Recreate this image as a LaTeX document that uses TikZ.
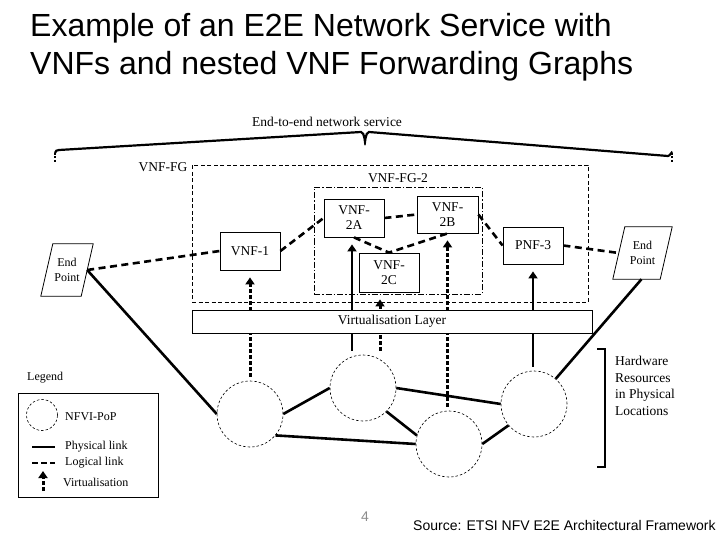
\documentclass[tikz,border=0pt]{standalone}
\usepackage{fontspec}
\setmainfont{Liberation Serif}
\newfontfamily\arialfont{Liberation Sans}
\definecolor{pagegray}{RGB}{140, 140, 140}
\usetikzlibrary{arrows.meta, positioning, shapes.geometric}

% slanted outline round an end point node
\newcommand{\slantbox}[1]{%
  \draw[line width=0.8pt] ([xshift=-6pt]#1.south west) -- ([xshift=-6pt]#1.south east)
    -- ([xshift=6pt]#1.north east) -- ([xshift=6pt]#1.north west) -- cycle;}

\begin{document}
\begin{tikzpicture}[x=1pt, y=-1pt,
    box/.style={draw, line width=0.8pt, fill=white, inner sep=0pt, align=center, font=\fontsize{13.5}{15}\selectfont},
    endpt/.style={inner sep=0pt, align=center, font=\fontsize{12}{15}\selectfont, minimum height=52pt},
    pop/.style={circle, draw, line width=0.6pt, dash pattern=on 2.5pt off 2pt, minimum size=66pt, inner sep=0pt},
    phys/.style={line width=2.6pt},
    logic/.style={line width=2.6pt, dash pattern=on 7pt off 4.5pt},
    uptip/.style={-{Triangle[width=9pt, length=7pt]}, shorten <=4pt, shorten >=7pt},
    virt/.style={line width=3pt, dash pattern=on 4pt off 2pt, uptip},
    physup/.style={line width=2.6pt, uptip},
    braceline/.style={line width=2.2pt},
    lbl/.style={font=\fontsize{13.5}{16.5}\selectfont, inner sep=1pt},
    lgd/.style={font=\fontsize{12}{14}\selectfont, inner sep=0pt},
    titlefont/.style={font=\arialfont\fontsize{32}{38}\selectfont, inner sep=0pt, anchor=base west}
  ]
  \useasboundingbox (0,0) rectangle (720,540);

  % Title
  \node[titlefont] (title1) at (30,37) {Example of an E2E Network Service with};
  \node[titlefont] (title2) at (30,75) {VNFs and nested VNF Forwarding Graphs};

  % End-to-end brace
  \node[lbl] (e2e) at (327,122) {End-to-end network service};
  \coordinate (braceL) at (55,153);
  \coordinate (braceR) at (672,153);
  \coordinate (braceTip) at (365,141);
  \draw[braceline] (braceL) to[out=90,in=180] ++(4,-3) -- ([xshift=-4pt, yshift=9pt]braceTip)
    to[out=0,in=-90] (braceTip) to[out=-90,in=180] ([xshift=4pt, yshift=9pt]braceTip)
    -- ([xshift=-4pt, yshift=-3pt]braceR) to[out=0,in=90] (braceR);
  \draw[braceline, dash pattern=on 2pt off 1.5pt] (braceL) -- ++(0,10);
  \draw[braceline, dash pattern=on 2pt off 1.5pt] (braceR) -- ++(0,10);

  % Forwarding graph boxes
  \node[draw, line width=0.6pt, dash pattern=on 4pt off 2.5pt, minimum width=396pt, minimum height=137pt, inner sep=0pt] (fg) at (390,233.5) {};
  \node[lbl, anchor=east] (fglbl) at ([xshift=-3pt, yshift=-2pt]fg.north west) {VNF-FG};
  \node[draw, line width=0.6pt, dash pattern=on 6pt off 2pt on 1.5pt off 2pt, minimum width=168pt, minimum height=107pt, inner sep=0pt] (fg2) at (398,240.5) {};
  \node[lbl, above=3pt of fg2.north] (fg2lbl) {VNF-FG-2};

  % Network functions
  \node[box, minimum width=60pt, minimum height=38pt] (vnf1) at (250,251) {VNF-1};
  \node[box, minimum width=60pt, minimum height=38pt] (vnf2a) at (354,218) {VNF-\\2A};
  \node[box, minimum width=61pt, minimum height=37pt] (vnf2b) at (447.5,214.5) {VNF-\\2B};
  \node[box, minimum width=60pt, minimum height=39pt] (vnf2c) at (389,272.5) {VNF-\\2C};
  \node[box, minimum width=60pt, minimum height=37pt] (pnf3) at (533,245.5) {PNF-3};

  % End points
  \node[endpt, minimum width=40pt] (epL) at (67,270) {End\\Point};
  \slantbox{epL}
  \node[endpt, minimum width=47pt] (epR) at (642.5,253) {End\\Point};
  \slantbox{epR}

  % NFVI-PoPs
  \node[pop] (pop1) at (250,414) {};
  \node[pop] (pop2) at (363,388) {};
  \node[pop] (pop3) at (449,444) {};
  \node[pop] (pop4) at (534,404) {};

  % Logical links
  \draw[logic] (epL.east) -- (vnf1.west);
  \draw[logic] (vnf1.east) -- (vnf2a.west);
  \draw[logic] (vnf2a.east) -- (vnf2b.west);
  \draw[logic] (vnf2a.south) -- (vnf2c.north) -- (vnf2b.south);
  \draw[logic] (vnf2b.east) -- (pnf3.west);
  \draw[logic] (pnf3.east) -- (epR.west);

  % Physical links
  \draw[phys] (epL.east) -- (pop1.west);
  \draw[phys] ([xshift=-1pt]epR.south) -- (pop4);
  \draw[phys] (pop1.east) -- (pop2.west);
  \draw[phys] (pop1.-40) -- (pop3.west);
  \draw[phys] (pop2.-45) -- (pop3.165);
  \draw[phys] (pop2.east) -- (pop4.west);
  \draw[phys] (pop3.east) -- (pop4.220);

  % Virtualisation
  \draw[virt] (pop1.north) -- (vnf1.south);
  \draw[physup] ([xshift=-2pt]vnf2a.south |- pop2.north) -- ([xshift=-2pt]vnf2a.south);
  \draw[virt] ([xshift=-9pt]vnf2c.south |- pop2.north) -- ([xshift=-9pt]vnf2c.south);
  \draw[virt] (vnf2b.south |- pop3.north) -- (vnf2b.south);
  \draw[physup] (pnf3.south |- pop4.north) -- (pnf3.south);
  \node[draw, line width=0.8pt, fill=white, minimum width=400pt, minimum height=23pt, inner sep=0pt, lbl] (layer) at (392,321.5) {Virtualisation Layer};

  % Hardware bracket
  \draw[line width=2.6pt] (597,349) -| (605,467) -- (597,467);
  \node[lbl, anchor=west, align=left] (hw) at (614,386) {Hardware\\Resources\\in Physical\\Locations};

  % Legend
  \node[lgd, anchor=west] (legtitle) at (27,378) {Legend};
  \node[draw, line width=0.8pt, minimum width=140pt, minimum height=104pt, inner sep=0pt] (legbox) at (88,445) {};
  \node[pop, minimum size=31pt] (legpop) at (42,415) {};
  \node[lgd, anchor=west] (legpoptxt) at (65,417) {NFVI-PoP};
  \node[lgd, anchor=west] (legphys) at (65,447) {Physical link};
  \node[lgd, anchor=west] (leglog) at (65,463) {Logical link};
  \node[lgd, anchor=west] (legvirt) at (63,482) {Virtualisation};
  \draw[phys] ([xshift=-33pt]legphys.west) -- ([xshift=-10pt]legphys.west);
  \draw[logic, dash pattern=on 6pt off 3pt] ([xshift=-33pt]leglog.west) -- ([xshift=-10pt]leglog.west);
  \coordinate (legvbot) at (43,491);
  \coordinate (legvtop) at (43,471);
  \draw[virt, shorten <=0pt, shorten >=0pt] (legvbot) -- (legvtop);

  % Footer
  \node[font=\arialfont\fontsize{14}{16}\selectfont, text=pagegray] (pageno) at (365,517) {4};
  \node[anchor=west, font=\arialfont\fontsize{14}{16}\selectfont, inner sep=0pt] (src) at (413,525) {Source: ETSI NFV E2E Architectural Framework};
\end{tikzpicture}
\end{document}
